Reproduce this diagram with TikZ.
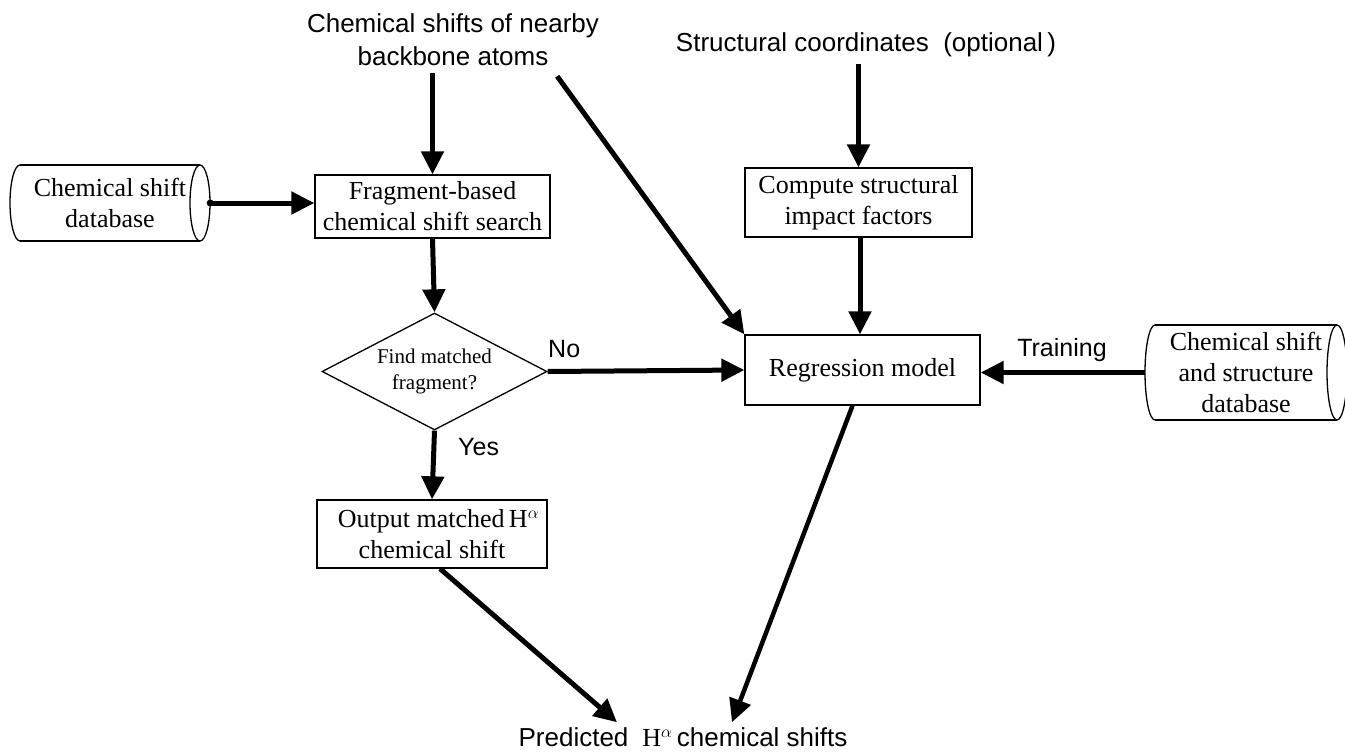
\documentclass[tikz,border=0pt]{standalone}
\usepackage{fontspec}
\setmainfont{Liberation Serif}
\setsansfont{Liberation Sans}
\usetikzlibrary{arrows.meta,shapes.geometric}
\tikzset{
  box/.style={draw, line width=1.3pt, align=center, inner sep=0pt, font=\fontsize{26}{31}\selectfont},
  dbtext/.style={align=center, inner sep=0pt, font=\fontsize{26}{31}\selectfont},
  dec/.style={draw, diamond, line width=1.3pt, align=center, inner sep=0pt, aspect=1.9, font=\fontsize{21}{26}\selectfont},
  stext/.style={align=center, inner sep=0pt, font=\sffamily\fontsize{26}{33}\selectfont},
  lbl/.style={inner sep=0pt, font=\sffamily\fontsize{25}{30}\selectfont},
  arr/.style={line width=5pt, -{Triangle[length=23pt,width=22pt]}},
  cyl/.style={line width=1.3pt}
}
\begin{document}
\begin{tikzpicture}[x=1pt,y=-1pt]
\useasboundingbox[fill=white] (0,0) rectangle (1345,753);

% texts
\node[stext] (chem) at (453,40) {Chemical shifts of nearby\\backbone atoms};
\node[stext] (struct) at (866,45) {Structural coordinates\ \ (optional\,)};

% boxes
\node[box, minimum width=235pt, minimum height=63pt] (frag) at (432.5,206.5) {Fragment-based\\chemical shift search};
\node[box, minimum width=227pt, minimum height=69pt] (comp) at (858.5,202.5) {Compute structural\\impact factors};
\node[box, minimum width=235pt, minimum height=70pt] (reg) at (862.5,370) {Regression model};
\node[box, minimum width=230pt, minimum height=68pt] (out) at (432,534) {\ \ Output matched\,H$^{\alpha}$\\chemical shift};
\node[dec, minimum width=225pt, minimum height=117pt] (find) at (434.5,371.5) {Find matched\\fragment?};

% databases
\node[dbtext, minimum width=200pt, minimum height=76pt] (db1) at (110,203) {Chemical shift\\database};
\draw[cyl] (20,165) -- (200,165) (20,241) -- (200,241);
\draw[cyl] (200,203) ellipse (10 and 38);
\draw[cyl] (20,165) arc (270:90:10 and 38);

\node[dbtext, minimum width=202pt, minimum height=95pt] (db2) at (1246,372.5) {Chemical shift\\and structure\\database};
\draw[cyl] (1155,325) -- (1337,325) (1155,420) -- (1337,420);
\draw[cyl] (1337,372.5) ellipse (10 and 47.5);
\draw[cyl] (1155,325) arc (270:90:10 and 47.5);

% output text
\node[inner sep=0pt, font=\sffamily\fontsize{26}{30}\selectfont] (pred) at (683,737) {Predicted\hspace{14pt}\textrm{H}$^{\alpha}$\,chemical shifts};

% connectors
\draw[arr, shorten <=7pt] (chem.south -| frag.north) -- (frag.north);
\draw[arr, shorten <=7pt] (struct.south -| comp.north) -- (comp.north);
\draw[arr] ([xshift=-42pt,yshift=-10pt]chem.south east) -- (reg.north west);
\draw[arr] ([xshift=1.5pt]comp.south) -- ([xshift=1.5pt]comp.south |- reg.north);
\fill (db1.east) circle (3.5pt);
\draw[arr] (db1.east) -- (db1.east -| frag.west);
\draw[arr] (frag.south) -- (find.north);
\draw[arr] (find.east) -- (reg.west);
\node[lbl, anchor=south west] (no) at (548,358) {No};
\draw[arr] (find.south) -- (out.north);
\node[lbl, anchor=west] (yes) at (458,447) {Yes};
\draw[arr] (db2.west) -- (db2.west -| reg.east);
\node[lbl, anchor=south] (train) at (1062,362) {Training};
\draw[arr] ([xshift=8pt]out.south) -- ([xshift=-66pt,yshift=5pt]pred.north);
\draw[arr, line width=4.5pt] ([xshift=-10pt]reg.south) -- ([xshift=49pt,yshift=5pt]pred.north);
\end{tikzpicture}
\end{document}
